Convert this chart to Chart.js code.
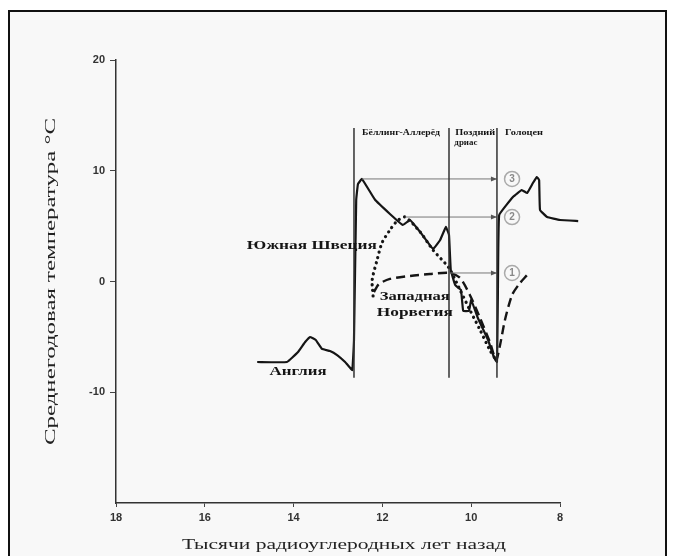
<!DOCTYPE html>
<html>
<head>
<meta charset="utf-8">
<script src="https://cdn.jsdelivr.net/npm/chart.js@4.4.1/dist/chart.umd.min.js"></script>
<style>
  html, body { margin: 0; padding: 0; background: #fff; }
  canvas { display: block; }
</style>
</head>
<body>
<canvas id="chart" width="673" height="556"></canvas>
<script>
// ages: thousand radiocarbon years BP; temps: mean annual °C
const englandAge = [14.82, 14.15, 13.90, 13.74, 13.63, 13.50, 13.36, 13.18, 13.02, 12.84, 12.68, 12.64, 12.59, 12.55, 12.46,
  12.17, 11.83, 11.54, 11.38, 11.15, 10.86, 10.70, 10.57, 10.50, 10.46, 10.36, 10.23, 10.18, 10.05, 10.00,
  9.85, 9.62, 9.49, 9.42, 9.40, 9.37, 9.06, 8.86, 8.74, 8.61, 8.52, 8.47, 8.45, 8.29, 8.00, 7.59];
const englandTemp = [-7.27, -7.27, -6.37, -5.46, -5.01, -5.28, -6.09, -6.28, -6.64, -7.27, -7.99, -5.28, 7.36, 8.80, 9.26,
  7.40, 6.10, 5.10, 5.55, 4.47, 2.94, 3.75, 4.92, 4.20, 1.04, -0.32, -0.77, -2.66, -2.66, -1.67,
  -3.30, -5.28, -6.82, -7.27, -1.67, 6.00, 7.63, 8.26, 7.99, 8.89, 9.44, 9.16, 6.46, 5.82, 5.55, 5.46];

const swedenAge = [12.21, 12.23, 12.12, 12.01, 11.83, 11.67, 11.49, 11.15, 10.86, 10.50, 10.25, 10.03, 9.80, 9.58, 9.44];
const swedenTemp = [-1.31, 0.14, 1.94, 3.48, 4.65, 5.46, 5.82, 4.47, 2.84, 1.22, -0.77, -2.57, -4.38, -6.19, -7.09];

const norwayAge = [12.19, 12.08, 11.83, 11.38, 10.93, 10.48, 10.25, 10.03, 9.80, 9.58, 9.44, 9.35, 9.24, 9.08, 8.92, 8.74];
const norwayTemp = [-0.95, -0.23, 0.23, 0.50, 0.68, 0.77, 0.32, -1.22, -3.30, -5.46, -7.09, -5.73, -3.48, -1.22, -0.23, 0.59];

// reference levels 1, 2, 3 and where each starts
const refNames = ['1', '2', '3'];
const refTemp = [0.77, 5.82, 9.26];
const refFrom = [10.48, 11.49, 12.46];
const refTo = 9.42;
const refMarkAge = 9.08;

// period boundaries (vertical lines)
const periodBounds = [12.64, 10.50, 9.42];
const periodTop = 13.86;
const periodBottom = -8.7;

const xTicks = [18, 16, 14, 12, 10, 8];
const yTicks = [-10, 0, 10, 20];

const curveLabels = [
  { text: 'Южная Швеция', age: 13.59, temp: 3.2, w: 130 },
  { text: 'Западная', age: 11.27, temp: -1.4, w: 70 },
  { text: 'Норвегия', age: 11.27, temp: -2.84, w: 76 },
  { text: 'Англия', age: 13.9, temp: -8.17, w: 57 },
];
const periodLabels = [
  { text: 'Бёллинг-Аллерёд', age: 11.58, temp: 13.4, w: 78 },
  { text: 'Поздний', age: 9.91, temp: 13.4, w: 40 },
  { text: 'дриас', age: 10.12, temp: 12.5, w: 23 },
  { text: 'Голоцен', age: 8.81, temp: 13.4, w: 38 },
];

const INK = '#151515';
const SERIF = "'Liberation Serif', 'DejaVu Serif', serif";

Chart.defaults.font.family = "'Liberation Sans', Arial, sans-serif";

const pts = (xs, ys) => xs.map((x, i) => ({ x, y: ys[i] }));

function stretchText(ctx, text, cx, cy, width, font, rot) {
  ctx.save();
  ctx.font = font;
  const w = ctx.measureText(text).width;
  ctx.translate(cx, cy);
  if (rot) ctx.rotate(rot);
  ctx.scale(width / w, 1);
  ctx.textAlign = 'center';
  ctx.textBaseline = 'middle';
  ctx.fillText(text, 0, 0);
  ctx.restore();
}

const decor = {
  id: 'decor',
  beforeDraw(chart) {
    const ctx = chart.ctx;
    ctx.save();
    ctx.fillStyle = '#fff';
    ctx.fillRect(0, 0, chart.width, chart.height);
    ctx.fillStyle = '#f8f8f8';
    ctx.fillRect(9, 11, 657, 560);
    ctx.strokeStyle = '#111';
    ctx.lineWidth = 2;
    ctx.strokeRect(9, 11, 657, 560);
    ctx.restore();
  },
  afterDatasetsDraw(chart) {
    const ctx = chart.ctx;
    const xs = chart.scales.x, ys = chart.scales.y;
    const area = chart.chartArea;
    ctx.save();
    // arrowheads on reference lines
    ctx.fillStyle = '#555';
    refTemp.forEach(t => {
      const px = xs.getPixelForValue(refTo), py = ys.getPixelForValue(t);
      ctx.beginPath();
      ctx.moveTo(px, py);
      ctx.lineTo(px - 6, py - 2.5);
      ctx.lineTo(px - 6, py + 2.5);
      ctx.closePath();
      ctx.fill();
    });
    // numbers inside the circles
    ctx.fillStyle = '#888';
    ctx.font = "bold 10px 'Liberation Sans', Arial";
    ctx.textAlign = 'center';
    ctx.textBaseline = 'middle';
    refTemp.forEach((t, i) => {
      ctx.fillText(refNames[i], xs.getPixelForValue(refMarkAge), ys.getPixelForValue(t) + 0.5);
    });
    // curve labels
    ctx.fillStyle = INK;
    curveLabels.forEach(l => {
      stretchText(ctx, l.text, xs.getPixelForValue(l.age), ys.getPixelForValue(l.temp), l.w, 'bold 13px ' + SERIF);
    });
    periodLabels.forEach(l => {
      stretchText(ctx, l.text, xs.getPixelForValue(l.age), ys.getPixelForValue(l.temp), l.w, 'bold 8px ' + SERIF);
    });
    // axis titles
    ctx.fillStyle = '#222';
    stretchText(ctx, 'Среднегодовая температура °С', area.left - 65, (area.top + area.bottom) / 2, 327, '15px ' + SERIF, -Math.PI / 2);
    stretchText(ctx, 'Тысячи радиоуглеродных лет назад', (area.left + area.right) / 2 + 6, area.bottom + 42, 324, '15px ' + SERIF);
    ctx.restore();
  }
};

const datasets = [];
periodBounds.forEach(b => {
  datasets.push({
    data: [{ x: b, y: periodTop }, { x: b, y: periodBottom }],
    borderColor: '#333', borderWidth: 1.5, pointRadius: 0, showLine: true, tension: 0,
  });
});
refTemp.forEach((t, i) => {
  datasets.push({
    data: [{ x: refFrom[i], y: t }, { x: refTo, y: t }],
    borderColor: '#777', borderWidth: 1, pointRadius: 0, showLine: true, tension: 0,
  });
});
datasets.push({
  data: refTemp.map(t => ({ x: refMarkAge, y: t })),
  showLine: false, pointRadius: 7.5, pointBorderWidth: 1.5,
  pointBorderColor: '#aaa', pointBackgroundColor: 'rgba(248,248,248,0.6)',
});
datasets.push({
  label: 'Англия', data: pts(englandAge, englandTemp), showLine: true, clip: false,
  borderColor: INK, borderWidth: 2.2, pointRadius: 0, tension: 0.08,
});
datasets.push({
  label: 'Южная Швеция', data: pts(swedenAge, swedenTemp), showLine: true,
  borderColor: INK, borderWidth: 3.2, borderDash: [0.1, 5.5], borderCapStyle: 'round',
  pointRadius: 0, tension: 0.25,
});
datasets.push({
  label: 'Западная Норвегия', data: pts(norwayAge, norwayTemp), showLine: true,
  borderColor: INK, borderWidth: 2.4, borderDash: [9, 5], pointRadius: 0, tension: 0.25,
});

new Chart(document.getElementById('chart'), {
  type: 'scatter',
  data: { datasets },
  options: {
    responsive: false,
    animation: false,
    events: [],
    layout: { padding: { top: 60, right: 113, left: 0, bottom: 0 } },
    plugins: { legend: { display: false }, tooltip: { enabled: false } },
    scales: {
      x: {
        type: 'linear', reverse: true, min: 8, max: 18,
        afterBuildTicks: s => { s.ticks = xTicks.map(v => ({ value: v })); },
        afterFit: s => { s.height = 53; },
        grid: { display: true, drawOnChartArea: false, drawTicks: true, tickLength: 4, color: '#444' },
        border: { display: true, color: '#333', width: 1.5 },
        ticks: { color: '#333', font: { size: 11, weight: 'bold' }, padding: 4 },
      },
      y: {
        type: 'linear', min: -20, max: 20,
        afterBuildTicks: s => { s.ticks = yTicks.map(v => ({ value: v })); },
        afterFit: s => { s.width = 116; },
        grid: { display: true, drawOnChartArea: false, drawTicks: true, tickLength: 6, color: '#444' },
        border: { display: true, color: '#333', width: 1.5 },
        ticks: { color: '#333', font: { size: 11, weight: 'bold' }, padding: 5 },
      },
    },
  },
  plugins: [decor],
});
</script>
</body>
</html>
